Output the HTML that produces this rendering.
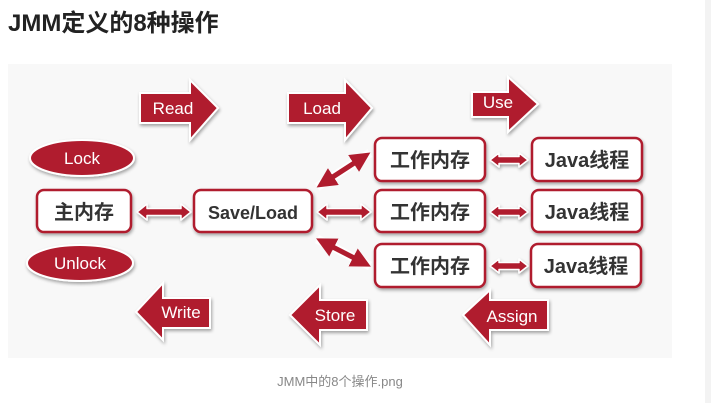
<!DOCTYPE html>
<html><head><meta charset="utf-8"><style>
body{margin:0;background:#fff;width:711px;height:403px;overflow:hidden;font-family:"Liberation Sans","Noto Sans CJK SC",sans-serif}
</style></head><body>
<svg width="711" height="403" xmlns="http://www.w3.org/2000/svg" style="position:absolute;left:0;top:0">
<defs>
<filter id="sh" x="-20%" y="-20%" width="140%" height="150%"><feDropShadow dx="1" dy="2" stdDeviation="1.5" flood-color="#000" flood-opacity="0.35"/></filter>
<marker id="ah" markerWidth="4" markerHeight="4" refX="2" refY="2" orient="auto-start-reverse" markerUnits="strokeWidth"><path d="M0,0 L4,2 L0,4 z" fill="#b01c2e"/></marker>
</defs>
<text x="8" y="31" font-size="24" font-weight="bold" fill="#222" font-family="Liberation Sans,Noto Sans CJK SC,sans-serif">JMM定义的8种操作</text>
<rect x="8" y="64" width="664" height="294" fill="#f8f8f8"/>
<rect x="705" y="0" width="6" height="403" fill="#f3f3f3"/>
<g fill="#b01c2e" stroke="#fff" stroke-width="2" filter="url(#sh)">
<polygon points="140,93 190,93 190,80 218,108 190,140 190,123 140,123"/>
<polygon points="288,93 345,93 345,80 372,108 345,140 345,123 288,123"/>
<polygon points="472,92 508,92 508,77 538,104 508,132 508,117 472,117"/>
<polygon points="210,298 163,298 163,283 136,312 163,340 163,328 210,328"/>
<polygon points="367,300 320,300 320,285 290,315 320,345 320,330 367,330"/>
<polygon points="548,300 490,300 490,290 463,315 490,345 490,330 548,330"/>
<ellipse cx="82" cy="158" rx="52" ry="18"/>
<ellipse cx="80" cy="263" rx="53" ry="18"/>
</g>
<g fill="#fff" font-size="17">
<text x="173" y="114" text-anchor="middle">Read</text>
<text x="322" y="114" text-anchor="middle">Load</text>
<text x="498" y="108" text-anchor="middle">Use</text>
<text x="181" y="318" text-anchor="middle">Write</text>
<text x="335" y="321" text-anchor="middle">Store</text>
<text x="512" y="322" text-anchor="middle">Assign</text>
<text x="82" y="164" text-anchor="middle">Lock</text>
<text x="80" y="269" text-anchor="middle">Unlock</text>
</g>
<g fill="#b01c2e" stroke="#fff" stroke-width="1.5" stroke-linejoin="round" filter="url(#sh)">
<polygon points="137,212 147,204 147,208.5 181,208.5 181,204 191,212 181,220 181,215.5 147,215.5 147,220"/>
<polygon points="317,212 327,204 327,208.5 361,208.5 361,204 371,212 361,220 361,215.5 327,215.5 327,220"/>
<polygon points="490,160 499,153 499,156.5 519,156.5 519,153 528,160 519,167 519,163.5 499,163.5 499,167"/>
<polygon points="490,212 499,205 499,208.5 519,208.5 519,205 528,212 519,219 519,215.5 499,215.5 499,219"/>
<polygon points="490,266 499,259 499,262.5 519,262.5 519,259 528,266 519,273 519,269.5 499,269.5 499,273"/>
</g>
<g stroke="#fff" stroke-width="9" fill="none">
<line x1="317" y1="187" x2="370" y2="153"/><line x1="317" y1="239" x2="370" y2="266"/>
</g>
<g stroke="#b01c2e" stroke-width="5" fill="none" marker-start="url(#ah)" marker-end="url(#ah)">
<line x1="325" y1="182" x2="362" y2="158"/><line x1="325" y1="243" x2="362" y2="262"/>
</g>
<g fill="#fff" stroke="#b01c2e" stroke-width="2.5" filter="url(#sh)">
<rect x="37" y="190" width="94" height="42" rx="7"/>
<rect x="194" y="190" width="118" height="42" rx="7"/>
<rect x="375" y="138" width="110" height="43" rx="7"/>
<rect x="375" y="190" width="110" height="42" rx="7"/>
<rect x="375" y="244" width="110" height="43" rx="7"/>
<rect x="532" y="138" width="110" height="43" rx="7"/>
<rect x="532" y="190" width="110" height="42" rx="7"/>
<rect x="531" y="244" width="110" height="43" rx="7"/>
</g>
<g fill="#333" font-size="20" font-weight="bold" text-anchor="middle">
<text x="84" y="219">主内存</text>
<text x="253" y="219" font-size="18">Save/Load</text>
<text x="430" y="167">工作内存</text>
<text x="430" y="219">工作内存</text>
<text x="430" y="273">工作内存</text>
<text x="587" y="167">Java线程</text>
<text x="587" y="219">Java线程</text>
<text x="586" y="273">Java线程</text>
</g>
<text x="340" y="386" font-size="13" fill="#888" text-anchor="middle">JMM中的8个操作.png</text>
</svg>
</body></html>
